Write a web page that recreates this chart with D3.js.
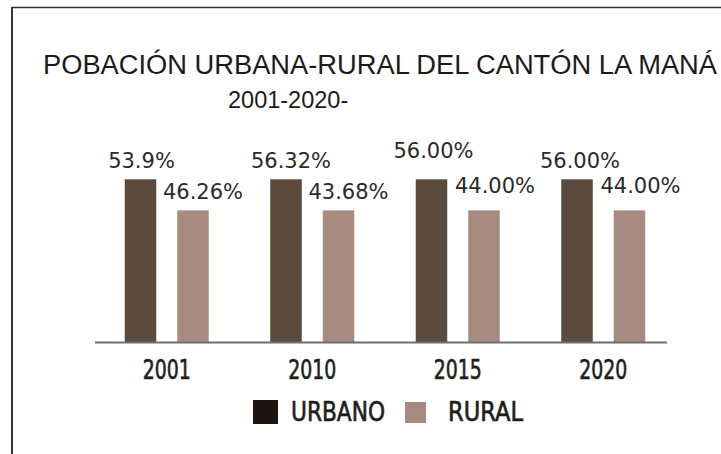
<!DOCTYPE html>
<html>
<head>
<meta charset="utf-8">
<script src="https://cdn.jsdelivr.net/npm/d3@7"></script>
<style>
  html, body { margin: 0; padding: 0; background: #fff; }
  svg { display: block; }
</style>
</head>
<body>
<svg id="chart" width="721" height="454"></svg>
<script>
// ---- data ----
const titleLine1 = "POBACIÓN URBANA-RURAL DEL CANTÓN LA MANÁ";
const titleLine2 = "2001-2020-";
const years = ["2001", "2010", "2015", "2020"];
const seriesNames = ["URBANO", "RURAL"];
// bar heights as drawn in the picture (all groups drawn equal)
const urbanoBars = [56, 56, 56, 56];
const ruralBars = [45.3, 45.3, 45.3, 45.3];
// value labels as printed
const urbanoLabels = ["53.9%", "56.32%", "56.00%", "56.00%"];
const ruralLabels = ["46.26%", "43.68%", "44.00%", "44.00%"];

// ---- layout / style ----
const W = 721, H = 454;
const baseY = 342;
const colors = { URBANO: "#5c4a3d", RURAL: "#a68b7e" };
const legendColors = { URBANO: "#1f1411", RURAL: "#a68b7e" };
// small per-label nudges (layout only)
const urbanoNudge = [[1, 0], [5, 0], [2, -10], [3, 0]];
const ruralNudge = [[10, 0], [10, 0], [11, -6], [11, -6]];
const narrowFont = "'DejaVu Sans Condensed', 'DejaVu Sans', sans-serif";

const svg = d3.select("#chart");

// frame
svg.append("line").attr("x1", 12).attr("x2", W).attr("y1", 7.5).attr("y2", 7.5)
  .attr("stroke", "#333").attr("stroke-width", 1.6);
svg.append("line").attr("x1", 12).attr("x2", 12).attr("y1", 7).attr("y2", H)
  .attr("stroke", "#222").attr("stroke-width", 1.8);

// title
svg.append("text").attr("x", 43).attr("y", 74)
  .attr("font-family", "'Liberation Sans', Arial, sans-serif")
  .attr("font-size", 27).attr("fill", "#1a1a1a")
  .attr("textLength", 674).attr("lengthAdjust", "spacingAndGlyphs")
  .text(titleLine1);
svg.append("text").attr("x", 228).attr("y", 108)
  .attr("font-family", "'Liberation Sans', Arial, sans-serif")
  .attr("font-size", 23.5).attr("fill", "#1a1a1a")
  .text(titleLine2);

// scales
const x0 = d3.scaleBand().domain(years).range([94, 676]).paddingInner(0).paddingOuter(0);
const x1 = d3.scaleBand().domain(seriesNames).range([-42, 42]).paddingInner(0.4).paddingOuter(0);
const y = d3.scaleLinear().domain([0, 56]).range([baseY, 179.3]);

const data = years.map((yr, i) => ({
  year: yr,
  vals: [
    { key: "URBANO", v: urbanoBars[i], label: urbanoLabels[i], nudge: urbanoNudge[i] },
    { key: "RURAL", v: ruralBars[i], label: ruralLabels[i], nudge: ruralNudge[i] }
  ]
}));

const groups = svg.selectAll("g.grp").data(data).join("g")
  .attr("class", "grp")
  .attr("transform", d => `translate(${x0(d.year) + x0.bandwidth() / 2},0)`);

groups.selectAll("rect").data(d => d.vals).join("rect")
  .attr("x", d => x1(d.key))
  .attr("width", x1.bandwidth())
  .attr("y", d => y(d.v))
  .attr("height", d => baseY - y(d.v))
  .attr("fill", d => colors[d.key]);

groups.selectAll("text.val").data(d => d.vals).join("text")
  .attr("class", "val")
  .attr("x", d => x1(d.key) + x1.bandwidth() / 2 + d.nudge[0])
  .attr("y", d => y(d.v) - 11 + d.nudge[1])
  .attr("text-anchor", "middle")
  .attr("font-family", "'DejaVu Sans', sans-serif")
  .attr("font-size", 21)
  .attr("fill", "#2a2a2a")
  .text(d => d.label);

// baseline axis
svg.append("line").attr("x1", 95).attr("x2", 667).attr("y1", baseY + 0.5).attr("y2", baseY + 0.5)
  .attr("stroke", "#6e6e6e").attr("stroke-width", 2);

// x tick labels
const xAxis = d3.axisBottom(x0).tickSize(0).tickPadding(0);
const ax = svg.append("g").attr("transform", `translate(0,${baseY})`).call(xAxis);
ax.select(".domain").remove();
ax.selectAll("text")
  .attr("y", 37).attr("dy", 0)
  .attr("font-family", narrowFont)
  .attr("font-size", 26)
  .attr("fill", "#1e1e1e")
  .attr("stroke", "#1e1e1e").attr("stroke-width", 0.6)
  .attr("textLength", 48).attr("lengthAdjust", "spacingAndGlyphs");

// legend
const legendItems = [
  { key: "URBANO", sx: 253, sy: 400, sw: 25, sh: 24, tx: 291, tw: 94 },
  { key: "RURAL", sx: 405, sy: 402, sw: 21, sh: 21, tx: 448, tw: 75 }
];
const lg = svg.append("g");
lg.selectAll("rect").data(legendItems).join("rect")
  .attr("x", d => d.sx).attr("y", d => d.sy).attr("width", d => d.sw).attr("height", d => d.sh)
  .attr("fill", d => legendColors[d.key]);
lg.selectAll("text").data(legendItems).join("text")
  .attr("x", d => d.tx).attr("y", 421)
  .attr("font-family", narrowFont)
  .attr("font-size", 26)
  .attr("fill", "#1e1e1e")
  .attr("stroke", "#1e1e1e").attr("stroke-width", 0.6)
  .attr("textLength", d => d.tw).attr("lengthAdjust", "spacingAndGlyphs")
  .text(d => d.key);
</script>
</body>
</html>
